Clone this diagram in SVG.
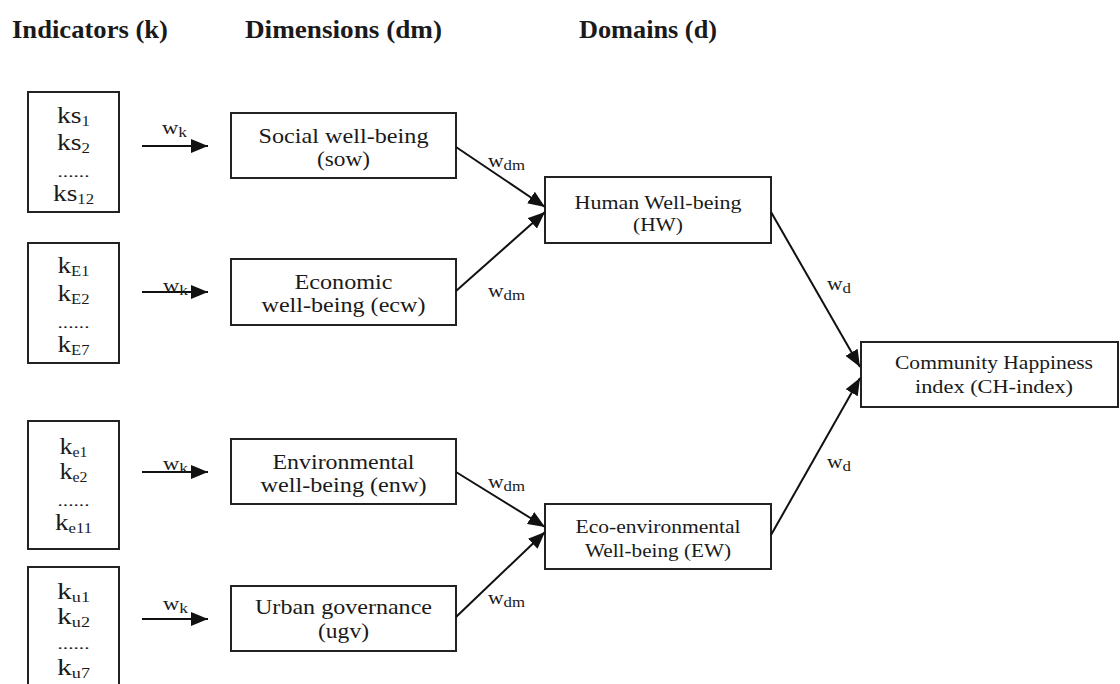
<svg xmlns="http://www.w3.org/2000/svg" width="1120" height="684" viewBox="0 0 1120 684">
<style>
text{font-family:"Liberation Serif","Times New Roman",serif;fill:#1a1a1a}
.hd{font-size:25px;font-weight:bold}
.ind{font-size:23px;text-anchor:middle}
.dots{font-size:14px;text-anchor:middle}
.dim{font-size:22px;text-anchor:middle}
.dom{font-size:18.5px;text-anchor:middle}
.ch{font-size:19.5px;text-anchor:middle}
.w{font-size:18px}
.sub{font-size:14px}
.box{fill:#fff;stroke:#222;stroke-width:2}
.con{stroke:#111;stroke-width:2;fill:none;marker-end:url(#ah)}
</style>
<defs>
<marker id="ah" markerUnits="userSpaceOnUse" markerWidth="18" markerHeight="14" refX="17" refY="7" orient="auto">
<path d="M0,0 L17,7 L0,14 z" fill="#111"/>
</marker>
</defs>
<rect width="1120" height="684" fill="#fff"/>

<g id="headers">
<text class="hd" x="12" y="38" textLength="156" lengthAdjust="spacingAndGlyphs">Indicators (k)</text>
<text class="hd" x="245" y="38" textLength="197" lengthAdjust="spacingAndGlyphs">Dimensions (dm)</text>
<text class="hd" x="579" y="38" textLength="138" lengthAdjust="spacingAndGlyphs">Domains (d)</text>
</g>

<g id="ind-s">
<rect class="box" x="28" y="92" width="91" height="120"/>
<text class="ind" x="73.5" y="123" textLength="33" lengthAdjust="spacingAndGlyphs">ks<tspan class="sub" dy="3">1</tspan></text>
<text class="ind" x="73.5" y="150" textLength="33" lengthAdjust="spacingAndGlyphs">ks<tspan class="sub" dy="3">2</tspan></text>
<text class="dots" x="73.5" y="177" textLength="32" lengthAdjust="spacingAndGlyphs">......</text>
<text class="ind" x="73.5" y="201" textLength="41" lengthAdjust="spacingAndGlyphs">ks<tspan class="sub" dy="3">12</tspan></text>
</g>

<g id="ind-E">
<rect class="box" x="28" y="243" width="91" height="120"/>
<text class="ind" x="73.5" y="273" textLength="32" lengthAdjust="spacingAndGlyphs">k<tspan class="sub" dy="3">E1</tspan></text>
<text class="ind" x="73.5" y="301" textLength="32" lengthAdjust="spacingAndGlyphs">k<tspan class="sub" dy="3">E2</tspan></text>
<text class="dots" x="73.5" y="328" textLength="32" lengthAdjust="spacingAndGlyphs">......</text>
<text class="ind" x="73.5" y="352" textLength="32" lengthAdjust="spacingAndGlyphs">k<tspan class="sub" dy="3">E7</tspan></text>
</g>

<g id="ind-e">
<rect class="box" x="28" y="421" width="91" height="128"/>
<text class="ind" x="73.5" y="454" textLength="28" lengthAdjust="spacingAndGlyphs">k<tspan class="sub" dy="3">e1</tspan></text>
<text class="ind" x="73.5" y="479" textLength="28" lengthAdjust="spacingAndGlyphs">k<tspan class="sub" dy="3">e2</tspan></text>
<text class="dots" x="73.5" y="506" textLength="32" lengthAdjust="spacingAndGlyphs">......</text>
<text class="ind" x="73.5" y="530" textLength="37" lengthAdjust="spacingAndGlyphs">k<tspan class="sub" dy="3">e11</tspan></text>
</g>

<g id="ind-u">
<rect class="box" x="28" y="567" width="91" height="130"/>
<text class="ind" x="73.5" y="599" textLength="33" lengthAdjust="spacingAndGlyphs">k<tspan class="sub" dy="3">u1</tspan></text>
<text class="ind" x="73.5" y="624" textLength="33" lengthAdjust="spacingAndGlyphs">k<tspan class="sub" dy="3">u2</tspan></text>
<text class="dots" x="73.5" y="649" textLength="32" lengthAdjust="spacingAndGlyphs">......</text>
<text class="ind" x="73.5" y="675" textLength="33" lengthAdjust="spacingAndGlyphs">k<tspan class="sub" dy="3">u7</tspan></text>
</g>

<g id="sow">
<rect class="box" x="231" y="113" width="225" height="65"/>
<text class="dim" x="343.5" y="143" textLength="170" lengthAdjust="spacingAndGlyphs">Social well-being</text>
<text class="dim" x="343.5" y="166" textLength="53" lengthAdjust="spacingAndGlyphs">(sow)</text>
</g>
<g id="ecw">
<rect class="box" x="231" y="259" width="225" height="66"/>
<text class="dim" x="343.5" y="289" textLength="98" lengthAdjust="spacingAndGlyphs">Economic</text>
<text class="dim" x="343.5" y="312" textLength="164" lengthAdjust="spacingAndGlyphs">well-being (ecw)</text>
</g>
<g id="enw">
<rect class="box" x="231" y="439" width="225" height="65"/>
<text class="dim" x="343.5" y="469" textLength="142" lengthAdjust="spacingAndGlyphs">Environmental</text>
<text class="dim" x="343.5" y="492" textLength="166" lengthAdjust="spacingAndGlyphs">well-being (enw)</text>
</g>
<g id="ugv">
<rect class="box" x="231" y="586" width="225" height="65"/>
<text class="dim" x="343.5" y="614" textLength="177" lengthAdjust="spacingAndGlyphs">Urban governance</text>
<text class="dim" x="343.5" y="638" textLength="51" lengthAdjust="spacingAndGlyphs">(ugv)</text>
</g>

<g id="hw">
<rect class="box" x="545" y="177" width="226" height="66"/>
<text class="dom" x="658" y="209" textLength="167" lengthAdjust="spacingAndGlyphs">Human Well-being</text>
<text class="dom" x="658" y="231" textLength="50" lengthAdjust="spacingAndGlyphs">(HW)</text>
</g>
<g id="ew">
<rect class="box" x="545" y="504" width="226" height="65"/>
<text class="dom" x="658" y="533" textLength="165" lengthAdjust="spacingAndGlyphs">Eco-environmental</text>
<text class="dom" x="658" y="557" textLength="146" lengthAdjust="spacingAndGlyphs">Well-being (EW)</text>
</g>

<g id="ch">
<rect class="box" x="861" y="342" width="257" height="65"/>
<text class="ch" x="994" y="369" textLength="198" lengthAdjust="spacingAndGlyphs">Community Happiness</text>
<text class="ch" x="994" y="393" textLength="158" lengthAdjust="spacingAndGlyphs">index (CH-index)</text>
</g>

<g id="connectors">
<line class="con" x1="142" y1="146" x2="208" y2="146"/>
<line class="con" x1="142" y1="292" x2="208" y2="292"/>
<line class="con" x1="142" y1="472" x2="208" y2="472"/>
<line class="con" x1="142" y1="619" x2="208" y2="619"/>
<line class="con" x1="456" y1="147" x2="545" y2="207"/>
<line class="con" x1="456" y1="291" x2="545" y2="212"/>
<line class="con" x1="456" y1="472" x2="545" y2="527"/>
<line class="con" x1="456" y1="617" x2="545" y2="532"/>
<line class="con" x1="771" y1="212" x2="860" y2="367"/>
<line class="con" x1="771" y1="535" x2="860" y2="378"/>
</g>

<g id="labels">
<text class="w" x="162" y="134" textLength="25" lengthAdjust="spacingAndGlyphs">w<tspan class="sub" dy="3">k</tspan></text>
<text class="w" x="163" y="292" textLength="25" lengthAdjust="spacingAndGlyphs">w<tspan class="sub" dy="3">k</tspan></text>
<text class="w" x="163" y="470" textLength="25" lengthAdjust="spacingAndGlyphs">w<tspan class="sub" dy="3">k</tspan></text>
<text class="w" x="163" y="610" textLength="25" lengthAdjust="spacingAndGlyphs">w<tspan class="sub" dy="3">k</tspan></text>
<text class="w" x="488" y="167" textLength="37" lengthAdjust="spacingAndGlyphs">w<tspan class="sub" dy="3">dm</tspan></text>
<text class="w" x="488" y="297" textLength="37" lengthAdjust="spacingAndGlyphs">w<tspan class="sub" dy="3">dm</tspan></text>
<text class="w" x="488" y="488" textLength="37" lengthAdjust="spacingAndGlyphs">w<tspan class="sub" dy="3">dm</tspan></text>
<text class="w" x="488" y="604" textLength="37" lengthAdjust="spacingAndGlyphs">w<tspan class="sub" dy="3">dm</tspan></text>
<text class="w" x="827" y="290" textLength="24" lengthAdjust="spacingAndGlyphs">w<tspan class="sub" dy="3">d</tspan></text>
<text class="w" x="827" y="468" textLength="24" lengthAdjust="spacingAndGlyphs">w<tspan class="sub" dy="3">d</tspan></text>
</g>
</svg>
